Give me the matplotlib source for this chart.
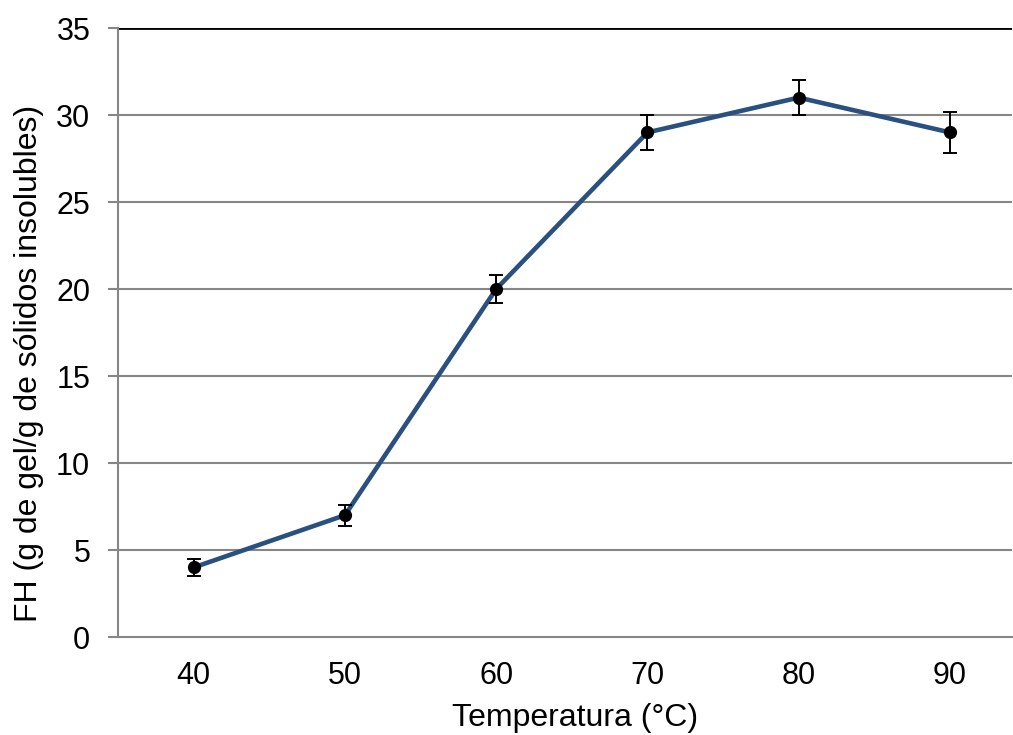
import matplotlib.pyplot as plt

plt.rcParams['font.family'] = ['Liberation Sans', 'DejaVu Sans']

# Dados
temperaturas = ['40', '50', '60', '70', '80', '90']
fh = [4.0, 7.0, 20.0, 29.0, 31.0, 29.0]
erro = [0.5, 0.6, 0.8, 1.0, 1.0, 1.2]

fig = plt.figure(figsize=(10.13, 7.35), dpi=100)
ax = fig.add_axes([0.1165, 0.1333, 0.8825, 0.8286])

x = list(range(len(temperaturas)))

# linhas de grade
for v in [5, 10, 15, 20, 25, 30]:
    ax.axhline(v, color='#868686', linewidth=1.5, zorder=1)
ax.axhline(35, color='black', linewidth=2, zorder=1)

ax.plot(x, fh, color='#29507f', linewidth=3.3, zorder=3)
ax.errorbar(x, fh, yerr=erro, fmt='o', color='black', markersize=8.5,
            elinewidth=1.4, capsize=5, capthick=1.4, zorder=4)

ax.set_xlim(-0.5, 5.41)
ax.set_ylim(0, 35)
ax.set_yticks([0, 5, 10, 15, 20, 25, 30, 35])
ax.set_xticks(x)
ax.set_xticklabels(temperaturas)

for s in ['top', 'right']:
    ax.spines[s].set_visible(False)
ax.spines['left'].set_color('#868686')
ax.spines['left'].set_linewidth(1.5)
ax.spines['bottom'].set_color('#868686')
ax.spines['bottom'].set_linewidth(1.5)

ax.tick_params(axis='y', length=7, width=1.5, color='#868686', pad=13, labelsize=22)
ax.tick_params(axis='x', length=0, pad=17, labelsize=22)

ax.set_xlabel('Temperatura (°C)', fontsize=23)
ax.set_ylabel('FH (g de gel/g de sólidos insolubles)', fontsize=23)
ax.xaxis.set_label_coords(0.511, -0.108)
ax.yaxis.set_label_coords(-0.083, 0.45)

fig.savefig('out.png', dpi=100)
plt.close('all')
